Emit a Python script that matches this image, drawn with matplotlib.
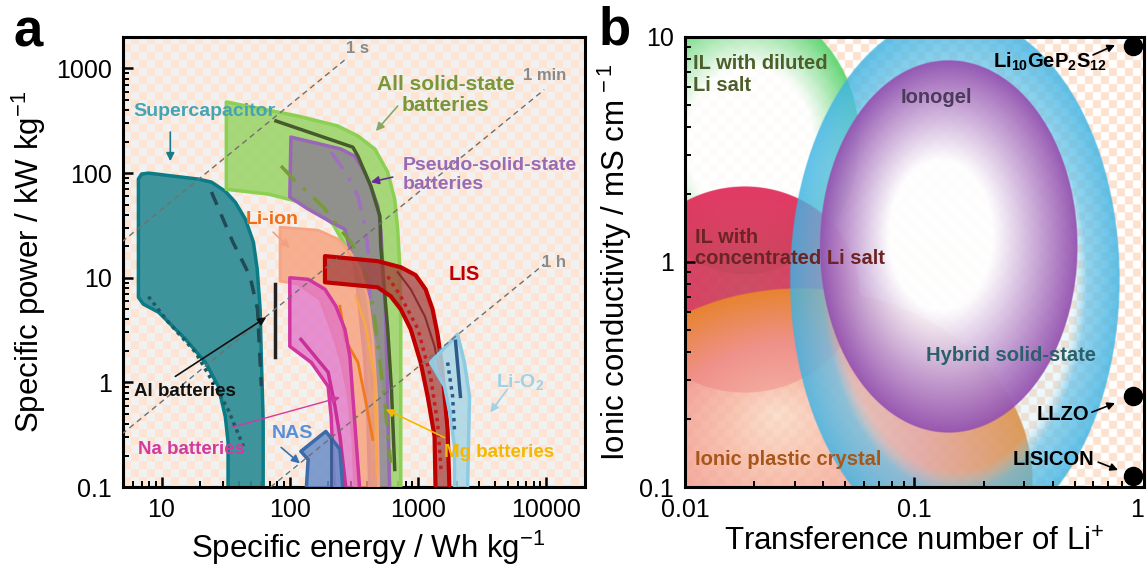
import numpy as np
import matplotlib
matplotlib.use('Agg')
import matplotlib.pyplot as plt
from matplotlib.colors import to_rgb, to_rgba
from matplotlib.ticker import LogLocator, NullFormatter

plt.rcParams['font.family'] = ['Liberation Sans', 'DejaVu Sans']
plt.rcParams['mathtext.fontset'] = 'custom'
plt.rcParams['mathtext.rm'] = 'Liberation Sans'
plt.rcParams['mathtext.it'] = 'Liberation Sans:italic'
plt.rcParams['mathtext.bf'] = 'Liberation Sans:bold'

# ---------------- panel a data (energy Wh/kg, power kW/kg) ----------------
supercap_E = [6.6, 7.0, 7.9, 19.4, 24.5, 31.4, 37.6, 45, 52, 55.7, 58.7, 60, 62, 62,
              33, 33, 31.4, 27.7, 22, 15.4, 9.5, 7.2, 6.6]
supercap_P = [88, 98, 100, 87.6, 82, 67, 52.6, 36.3, 21.9, 12.1, 5.0, 1.66, 0.44, 0.09,
              0.09, 0.27, 0.47, 0.915, 1.55, 2.58, 4.67, 5.6, 6.5]
supercap_dash_E = [24.5, 36, 49, 56, 60]
supercap_dash_P = [66, 21.9, 10.3, 5.0, 0.92]
supercap_dot_E = [7.9, 11.3, 18.4, 26.3, 33, 43.5]
supercap_dot_P = [6.6, 3.76, 1.94, 0.915, 0.55, 0.244]

solid_E = [32, 116, 237, 340, 460, 580, 658, 694, 720, 733, 733, 733, 600,
           580, 504, 406, 310, 217, 139, 68, 32]
solid_P = [478, 351, 282, 226, 170, 102, 56, 29, 12.9, 3.2, 0.69, 0.09, 0.09,
           0.44, 2.07, 6.2, 15, 32.6, 50.6, 63, 70]
solid_line_E = [78, 310, 340, 428, 504, 512, 580, 620, 658]
solid_line_P = [315, 177, 145, 75, 38.8, 20, 3.2, 0.857, 0.147]
solid_dd_E = [85.5, 116, 139, 188, 237, 299, 358, 406, 460, 550, 612]
solid_dd_P = [117, 78.5, 65.6, 45.3, 31, 21.9, 15, 9.7, 4.0, 0.64, 0.17]

pseudo_E = [102, 250, 321, 384, 428, 485, 512, 531, 560, 580, 601,
            421, 406, 384, 327, 269, 210, 139, 100]
pseudo_P = [221, 170, 145, 102, 75, 48.3, 29, 12.9, 4.0, 0.69, 0.09,
            0.09, 0.44, 1.66, 11.3, 29, 34, 45.3, 58.9]
pseudo_dd_E = [210, 284, 340, 392, 413, 428, 445, 460]
pseudo_dd_P = [159, 93.6, 60, 29, 15, 3.75, 0.735, 0.118]

liion_E = [84, 166, 237, 294, 352, 406, 444, 477, 494, 321, 310, 284, 250, 210, 172, 116, 84]
liion_P = [30.4, 28.5, 23.4, 17.9, 12.1, 6.23, 2.58, 0.688, 0.09, 0.09, 0.285, 0.768, 1.66,
           3.21, 6.23, 8.66, 9.28]
liion_line1_E = [246, 269, 340, 384, 444]
liion_line1_P = [5.34, 2.58, 1.55, 0.735, 0.285]
liion_line2_E = [327, 392, 460, 477]
liion_line2_P = [6.65, 3.43, 1.07, 0.126]

na_E = [100, 139, 188, 229, 269, 294, 310, 327, 352, 225, 217, 210, 199, 147, 100]
na_P = [10, 9.66, 7.76, 5.34, 3.21, 1.77, 0.735, 0.304, 0.09, 0.09, 0.196, 0.473, 0.915,
        1.55, 2.21]
na_line_E = [122, 199, 225, 246, 273]
na_line_P = [2.58, 1.25, 0.589, 0.304, 0.1]

nas_E = [122, 191, 246, 260, 134, 139]
nas_P = [0.219, 0.34, 0.229, 0.09, 0.09, 0.183]
nas_line_E = [210, 210]
nas_line_P = [0.285, 0.09]

lis_E = [188, 485, 733, 957, 1145, 1298, 1420, 1525, 1610, 1700, 1760,
         1370, 1345, 1188, 1047, 877, 733, 612, 485, 188]
lis_P = [16.1, 14.4, 12.6, 10.6, 7.76, 5.0, 2.88, 1.55, 0.735, 0.355, 0.09,
         0.09, 0.304, 0.735, 1.55, 3.21, 5.0, 6.65, 8.1, 9.05]
lis_dot_E = [580, 733, 1000, 1250, 1420, 1510]
lis_dot_P = [10.3, 6.65, 3.21, 1.14, 0.414, 0.147]
lis_line_E = [694, 877, 1130, 1345, 1510]
lis_line_P = [11.3, 7.76, 4.28, 2.21, 1.07]

lio2_E = [1253, 2030, 2300, 2520, 2430, 1923, 1923, 1790, 1610]
lio2_P = [1.55, 2.88, 1.55, 0.735, 0.09, 0.09, 0.244, 0.473, 0.915]
lio2_line_E = [1960, 2140]
lio2_line_P = [2.47, 0.735]
lio2_dot_E = [1700, 1860, 1923]
lio2_dot_P = [1.55, 0.735, 0.355]

al_E = [77, 77]
al_P = [8.65, 1.73]

time_labels = ['1 s', '1 min', '1 h']
time_E = [[4.9, 274], [4.9, 9640], [71, 9640]]
time_P = [[22, 1233], [0.32, 627], [0.1, 13.5]]
time_label_E = [340, 9640, 11500]
time_label_P = [1537, 866, 14.1]

# ---------------- panel b data ----------------
blob_names = ['IL diluted', 'IL concentrated', 'plastic crystal', 'hybrid', 'ionogel']
blob_t = [0.0182, 0.0182, 0.0317, 0.150, 0.141]      # centre, transference number
blob_s = [3.48, 0.751, 0.107, 0.832, 1.166]           # centre, mS/cm
blob_wt = [0.50, 0.50, 1.015, 0.719, 0.562]           # half width, decades
blob_ws = [0.60, 0.458, 0.853, 1.178, 0.827]          # half height, decades
blob_fx = [0.1, 0.0, -0.1, 0.0, -0.1]                 # gradient focus, in radii
blob_fy = [-0.05, 0.0, 0.35, 0.0, 0.1]
blob_stops = [
    [(0.0, '#ffffff', 0.9), (0.55, '#ffffff', 0.9), (1.0, '#5ad46e', 0.95)],
    [(0.0, '#c8405a', 0.92), (1.0, '#e0305c', 0.95)],
    [(0.0, '#f9d8c4', 0.8), (0.25, '#f6b8a4', 0.85), (0.55, '#f29a90', 0.9), (1.0, '#e8862c', 0.95)],
    [(0.0, '#c5e9f7', 0.12), (0.72, '#a5dbf1', 0.2), (0.8, '#62c2ea', 0.7), (1.0, '#3cb3e4', 0.82)],
    [(0.0, '#ffffff', 0.95), (0.4, '#ffffff', 0.95), (1.0, '#9452b0', 0.95)],
]
dot_t = [0.9, 0.9, 0.9]
dot_s = [9.1, 0.255, 0.112]

fig = plt.figure(figsize=(11.48, 5.68), dpi=100)


def checker(nx, ny, cell, c1, c2):
    ix = (np.arange(nx) // cell)[None, :]
    iy = (np.arange(ny) // cell)[:, None]
    m = ((ix + iy) % 2).astype(float)[..., None]
    return np.array(to_rgb(c1)) * m + np.array(to_rgb(c2)) * (1 - m)


def style_axes(ax):
    for s in ['left', 'bottom', 'right', 'top']:
        ax.spines[s].set_linewidth(2.2)
    ax.tick_params(which='both', direction='in', top=False, right=False,
                   labelsize=18, width=1.8, pad=8)
    ax.tick_params(which='major', length=7)
    ax.tick_params(which='minor', length=4, width=1.4)


# ================= panel a =================
rect_a = [0.1071, 0.1426, 0.4024, 0.7923]
bg = fig.add_axes(rect_a, zorder=0)
bg.imshow(checker(462, 450, 8, '#fde4d3', '#f1f1f1'), extent=(0, 1, 0, 1),
          aspect='auto', interpolation='nearest')
bg.axis('off')

ax = fig.add_axes(rect_a, zorder=1)
ax.patch.set_visible(False)
ax.set_xscale('log')
ax.set_yscale('log')


def region(E, P, fc, ec, alpha, lw, z):
    ax.fill(E, P, fc=to_rgba(fc, alpha), ec=ec, lw=lw, zorder=z, joinstyle='round')


region(supercap_E, supercap_P, '#2f8c95', '#0b7b86', 0.92, 2.5, 2)
ax.plot(supercap_dash_E, supercap_dash_P, color='#1f4a56', lw=2.5, ls=(0, (4, 3)), zorder=2.5)
ax.plot(supercap_dot_E, supercap_dot_P, color='#1f5a66', lw=2.5, ls=(0, (1, 1.2)), zorder=2.5)

region(solid_E, solid_P, '#9ed56d', '#8bd053', 0.9, 2.5, 3)
region(pseudo_E, pseudo_P, '#8d878f', '#9a66b8', 0.88, 2.5, 4)
ax.plot(solid_line_E, solid_line_P, color='#465a2a', lw=2.5, zorder=4.5)
ax.plot(solid_dd_E, solid_dd_P, color='#7a9a3a', lw=2.5, ls=(0, (6, 3, 1, 3)), zorder=4.5)
ax.plot(pseudo_dd_E, pseudo_dd_P, color='#a070c0', lw=2.5, ls=(0, (6, 3, 1, 3)), zorder=4.6)

region(liion_E, liion_P, '#f7a07c', '#f6a486', 0.8, 2, 5)
ax.plot(liion_line1_E, liion_line1_P, color='#f07a1a', lw=2, zorder=5.5)
ax.plot(liion_line2_E, liion_line2_P, color='#f7a848', lw=2, zorder=5.5)

region(na_E, na_P, '#e070c8', '#d1359f', 0.75, 2.5, 6)
ax.plot(na_line_E, na_line_P, color='#c92f98', lw=2.5, zorder=6.5)

region(nas_E, nas_P, '#6a8ec8', '#3d6aa8', 0.85, 2.5, 7)
ax.plot(nas_line_E, nas_line_P, color='#3a5a90', lw=2, zorder=7.5)

region(lis_E, lis_P, '#a2403c', '#c00000', 0.75, 3, 8)
ax.plot(lis_dot_E, lis_dot_P, color='#c02020', lw=2.5, ls=(0, (1, 1.3)), zorder=8.5)
ax.plot(lis_line_E, lis_line_P, color='#8a2c2c', lw=1.5, zorder=8.5)

region(lio2_E, lio2_P, '#a9d6e6', '#8ccbe3', 0.85, 2.5, 9)
ax.plot(lio2_line_E, lio2_line_P, color='#2c5a8c', lw=2.5, zorder=9.5)
ax.plot(lio2_dot_E, lio2_dot_P, color='#2c5a8c', lw=2.5, ls=(0, (1, 1.3)), zorder=9.5)

ax.plot(al_E, al_P, color='#222222', lw=2.5, zorder=10)

for E, P in zip(time_E, time_P):
    ax.plot(E, P, color='#707070', lw=1, ls=(0, (4, 3)), zorder=11)
for lab, E, P in zip(time_labels, time_label_E, time_label_P):
    ax.text(E, P, lab, color='#8a8a8a', fontsize=12, fontweight='bold',
            ha='center', va='center', zorder=12)


def note(text, xy, color, size=13.5, **kw):
    ax.text(xy[0], xy[1], text, color=color, fontsize=size, fontweight='bold',
            va='center', zorder=12, **kw)


def arrow(tail, head, color, lw=1.2):
    ax.annotate('', xy=head, xytext=tail, zorder=12,
                arrowprops=dict(arrowstyle='-|>', color=color, lw=lw, mutation_scale=12,
                                shrinkA=0, shrinkB=0))


note('Supercapacitor', (21.6, 384), '#45a4b4', size=14, ha='center')
arrow((11.7, 247), (11.7, 130), '#1a7a8a')
note('All solid-state\nbatteries', (1637, 557), '#78973a', size=15, ha='center',
     linespacing=1.1)
arrow((694, 438), (469, 252), '#8aa860')
note('Pseudo-solid-state\nbatteries', (759, 95.7), '#9a6ab5', size=14, ha='left',
     linespacing=1.1)
arrow((635, 91.6), (428, 82), '#6a2a9a')
note('Li-ion', (72.8, 36.3), '#ee6e18', size=14, ha='center')
arrow((74, 27.3), (100, 19.2), '#f4a080')
note('LIS', (2300, 10.8), '#c00000', size=14.5, ha='center')
note('Li-O$_\\mathbf{2}$', (6270, 1.0), '#9fd2e6', size=14, ha='center')
arrow((4970, 0.857), (3660, 0.516), '#9fd2e6')
note('Mg batteries', (4300, 0.214), '#f5b800', ha='center')
arrow((1610, 0.297), (560, 0.552), '#f5b800')
note('NAS', (104, 0.325), '#5b8fd8', size=14, ha='center')
arrow((85.6, 0.239), (120, 0.168), '#3a70b0')
note('Na batteries', (17.1, 0.228), '#d23aa0', ha='center')
arrow((35, 0.371), (246, 0.718), '#d23aa0', lw=1)
note('Al batteries', (15.1, 0.82), '#111111', ha='center')
arrow((12.8, 1.14), (65.5, 4.19), '#111111')

ax.set_xlim(5, 20000)
ax.set_ylim(0.1, 2000)
ax.set_xticks([10, 100, 1000, 10000])
ax.set_xticklabels(['10', '100', '1000', '10000'])
ax.set_yticks([0.1, 1, 10, 100, 1000])
ax.set_yticklabels(['0.1', '1', '10', '100', '1000'])
ax.xaxis.set_minor_locator(LogLocator(base=10, subs=np.arange(2, 10)))
ax.yaxis.set_minor_locator(LogLocator(base=10, subs=np.arange(2, 10)))
ax.xaxis.set_minor_formatter(NullFormatter())
ax.yaxis.set_minor_formatter(NullFormatter())
style_axes(ax)
ax.set_xlabel('Specific energy / Wh kg$^{-1}$', fontsize=22.5, labelpad=6)
ax.xaxis.set_label_coords(0.53, -0.093)
ax.set_ylabel('Specific power / kW kg$^{-1}$', fontsize=22.5, labelpad=6)

# ================= panel b =================
rect_b = [0.5967, 0.1426, 0.3998, 0.7923]
ax2 = fig.add_axes(rect_b, zorder=1)
ax2.set_xscale('log')
ax2.set_yscale('log')
ax2.set_xlim(0.01, 1)
ax2.set_ylim(0.1, 10)

nx, ny = 918, 900
U, V = np.meshgrid((np.arange(nx) + 0.5) / nx, (np.arange(ny) + 0.5) / ny)
disp = ax2.transAxes.transform(np.column_stack([U.ravel(), V.ravel()]))
dat = ax2.transData.inverted().transform(disp)
LX = np.log10(dat[:, 0]).reshape(ny, nx)
LY = np.log10(dat[:, 1]).reshape(ny, nx)

img = checker(nx, ny, 16, '#fde2cf', '#ffffff')[::-1]
for t0, s0, wt, ws, fx, fy, stops in zip(blob_t, blob_s, blob_wt, blob_ws,
                                          blob_fx, blob_fy, blob_stops):
    px = (LX - np.log10(t0)) / wt
    py = (LY - np.log10(s0)) / ws
    r = np.sqrt(px ** 2 + py ** 2)
    inside = np.clip((1 - r) / 0.004, 0, 1)
    # radial gradient measured from the focus point out to the ellipse rim
    dx, dy = px - fx, py - fy
    dd = dx * dx + dy * dy + 1e-12
    fd = fx * dx + fy * dy
    s = (-fd + np.sqrt(fd * fd + dd * (1 - fx * fx - fy * fy))) / dd
    g = np.clip(1 / s, 0, 1)
    pos = [p for p, c, a in stops]
    col = np.stack([np.interp(g, pos, [to_rgb(c)[k] for p, c, a in stops])
                    for k in range(3)], axis=-1)
    alp = np.interp(g, pos, [a for p, c, a in stops]) * inside
    img = img * (1 - alp[..., None]) + col * alp[..., None]

ax2.imshow(img, extent=(0, 1, 0, 1), transform=ax2.transAxes, origin='lower',
           aspect='auto', interpolation='bilinear', zorder=0)
ax2.set_xlim(0.01, 1)
ax2.set_ylim(0.1, 10)

ax2.plot(dot_t, dot_s, 'o', color='black', ms=13, zorder=5, clip_on=False)


def note2(text, xy, color, **kw):
    ax2.text(xy[0], xy[1], text, color=color, fontsize=14.5, fontweight='bold',
             va='center', zorder=6, **kw)


def arrow2(tail, head):
    ax2.annotate('', xy=head, xytext=tail, zorder=6,
                 arrowprops=dict(arrowstyle='-|>', color='black', lw=1.2, mutation_scale=11,
                                 shrinkA=0, shrinkB=0))


note2('IL with diluted\nLi salt', (0.0108, 6.81), '#4d5e2a', ha='left', linespacing=1.15)
note2('Ionogel', (0.124, 5.41), '#4b3b5b', ha='center')
note2('IL with\nconcentrated Li salt', (0.0110, 1.15), '#6b2424', ha='left', linespacing=1.15)
note2('Hybrid solid-state', (0.263, 0.386), '#2b5f6b', ha='center')
note2('Ionic plastic crystal', (0.0110, 0.132), '#a8561a', ha='left')
note2('$\\mathbf{Li_{10}GeP_2S_{12}}$', (0.39, 7.74), 'black', ha='center')
arrow2((0.6, 8.32), (0.748, 9.21))
note2('LLZO', (0.443, 0.209), 'black', ha='center')
arrow2((0.593, 0.215), (0.748, 0.236))
note2('LISICON', (0.405, 0.133), 'black', ha='center')
arrow2((0.631, 0.129), (0.771, 0.119))

ax2.set_xticks([0.01, 0.1, 1])
ax2.set_xticklabels(['0.01', '0.1', '1'])
ax2.get_xticklabels()[-1].set_horizontalalignment('right')
ax2.set_yticks([0.1, 1, 10])
ax2.set_yticklabels(['0.1', '1', '10'])
ax2.xaxis.set_minor_locator(LogLocator(base=10, subs=np.arange(2, 10)))
ax2.yaxis.set_minor_locator(LogLocator(base=10, subs=np.arange(2, 10)))
ax2.xaxis.set_minor_formatter(NullFormatter())
ax2.yaxis.set_minor_formatter(NullFormatter())
style_axes(ax2)
ax2.set_xlabel('Transference number of Li$^{+}$', fontsize=22.5, labelpad=4)
ax2.set_ylabel('Ionic conductivity / mS cm$^{\\,-1}$', fontsize=22.5, labelpad=4)

fig.text(0.0244, 0.942, 'a', fontsize=38, fontweight='bold', ha='center', va='center')
fig.text(0.5357, 0.947, 'b', fontsize=38, fontweight='bold', ha='center', va='center')

fig.savefig('out.png', dpi=100)
